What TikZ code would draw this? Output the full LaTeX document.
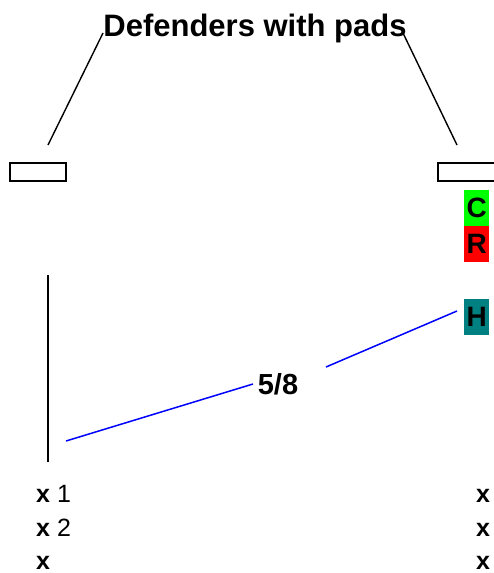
\documentclass[tikz,border=0pt]{standalone}
\usepackage{fontspec}
\setmainfont{Liberation Sans}
\begin{document}
\begin{tikzpicture}[x=1pt,y=-1pt,
  blk/.style={line width=1.4pt,black},
  pad/.style={draw=black,line width=1.6pt,fill=white},
  big/.style={font=\fontsize{29}{29}\selectfont\bfseries,inner sep=0pt},
  tag/.style={minimum width=25pt,minimum height=36pt,inner sep=0pt,font=\fontsize{28}{28}\selectfont\bfseries,anchor=north west},
  row/.style={font=\fontsize{25}{25}\selectfont,inner sep=0pt,anchor=base west},
  link/.style={blue,line width=1.5pt}]
\useasboundingbox (0,0) rectangle (494,573);
\fill[white] (0,0) rectangle (494,573);
\node[big,font=\fontsize{31}{31}\selectfont\bfseries,anchor=base] (title) at (255,36) {Defenders with pads};
\coordinate (tl) at (103,33);
\coordinate (tr) at (403,33);
\coordinate (pl) at (48,145);
\coordinate (pr) at (457,145);
\draw[blk] (tl) -- (pl);
\draw[blk] (tr) -- (pr);
\draw[pad] (10,163) rectangle (66,181);
\draw[pad] (438,163) rectangle (500,181);
\node[tag,fill={rgb,255:red,0;green,255;blue,0}] (C) at (464,190) {C};
\node[tag,fill={rgb,255:red,255;green,0;blue,0}] (R) at (464,226) {R};
\node[tag,fill={rgb,255:red,0;green,128;blue,128}] (H) at (464,299) {H};
\coordinate (v1) at (48,275);
\coordinate (v2) at (48,462);
\draw[blk] (v1) -- (v2);
\node[big,anchor=base] (lab) at (278,394) {5/8};
\coordinate (a1) at (66,441);
\coordinate (a2) at (253,384);
\coordinate (b1) at (326,367);
\coordinate (b2) at (457,311);
\draw[link] (a1) -- (a2);
\draw[link] (b1) -- (b2);
\node[row] (l1) at (36,502) {\textbf{x} 1};
\node[row] (l2) at (36,536) {\textbf{x} 2};
\node[row] (l3) at (36,569) {\textbf{x}};
\node[row] (r1) at (476,502) {\textbf{x}};
\node[row] (r2) at (476,536) {\textbf{x}};
\node[row] (r3) at (476,569) {\textbf{x}};
\end{tikzpicture}
\end{document}
